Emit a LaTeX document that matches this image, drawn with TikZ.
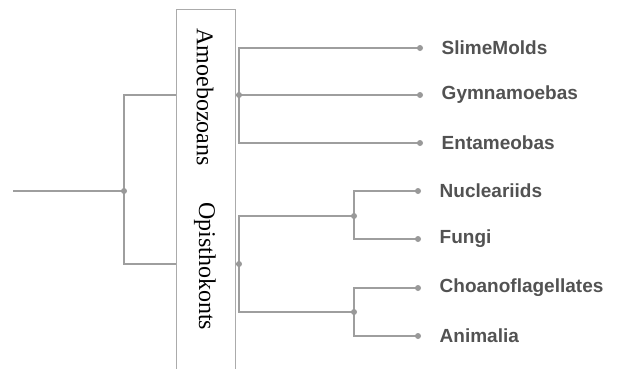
\documentclass[tikz,border=0pt]{standalone}
\usepackage{fontspec}
\setmainfont{Liberation Serif}
\setsansfont{Liberation Sans}
\usetikzlibrary{positioning}

\begin{document}
\begin{tikzpicture}[
  x=1pt,y=-1pt,
  edge/.style={draw=black!38, line width=1.4pt},
  dot/.style={circle, fill=black!40, inner sep=0pt, minimum size=6pt},
  cladebox/.style={draw=black!33, fill=white, line width=0.8pt, inner sep=0pt, minimum width=59pt, minimum height=365pt},
  clade/.style={font=\fontsize{24}{28}\selectfont, text=black, rotate=-90},
  taxon/.style={font=\sffamily\bfseries\fontsize{19}{22}\selectfont, text=black!68, anchor=west}
]
\useasboundingbox (0,0) rectangle (626,368);

% Branch points and tips of the tree
\coordinate (stem) at (13,191);
\coordinate (root) at (124,191);
\coordinate (amoe) at (239,95);
\coordinate (opis) at (239,264);
\coordinate (nucfun) at (354,216);
\coordinate (choani) at (354,312);
\coordinate (slime) at (420,48);
\coordinate (gymno) at (420,95);
\coordinate (entam) at (420,143);
\coordinate (nucle) at (418,191);
\coordinate (fungi) at (418,239);
\coordinate (choano) at (418,288);
\coordinate (anima) at (418,336);

% Branches
\draw[edge] (stem) -- (root);
\draw[edge] (root) |- (amoe);
\draw[edge] (root) |- (opis);
\draw[edge] (amoe) |- (slime);
\draw[edge] (amoe) -- (gymno);
\draw[edge] (amoe) |- (entam);
\draw[edge] (opis) |- (nucfun);
\draw[edge] (opis) |- (choani);
\draw[edge] (nucfun) |- (nucle);
\draw[edge] (nucfun) |- (fungi);
\draw[edge] (choani) |- (choano);
\draw[edge] (choani) |- (anima);

% Clade box over the two inner branches
\node[cladebox] (box) at (205.5,191.5) {};
\node[clade] (amoelbl) at (205,97) {Amoebozoans};
\node[clade] (opislbl) at (205,266) {Opisthokonts};

% Dots
\foreach \p in {root,amoe,opis,nucfun,choani,slime,gymno,entam,nucle,fungi,choano,anima}
  \node[dot] (\p dot) at (\p) {};

% Tip labels
\node[taxon, right=15pt of slimedot] (slimelbl) {SlimeMolds};
\node[taxon, right=15pt of gymnodot] (gymnolbl) {Gymnamoebas};
\node[taxon, right=15pt of entamdot] (entamlbl) {Entameobas};
\node[taxon, right=15pt of nucledot] (nuclelbl) {Nucleariids};
\node[taxon, right=15pt of fungidot] (fungilbl) {Fungi};
\node[taxon, right=15pt of choanodot] (choanolbl) {Choanoflagellates};
\node[taxon, right=15pt of animadot] (animalbl) {Animalia};

\end{tikzpicture}
\end{document}
